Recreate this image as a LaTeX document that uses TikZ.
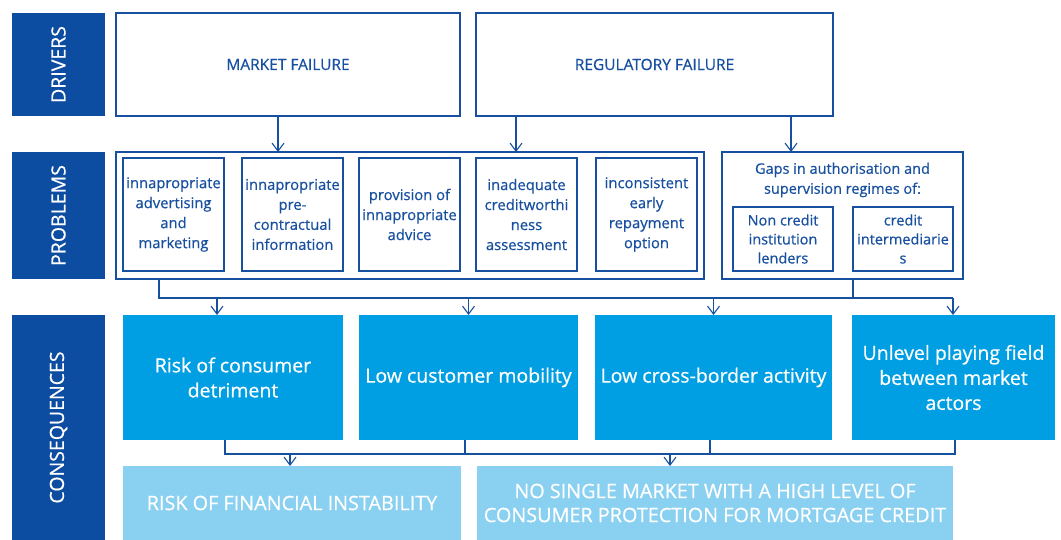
\documentclass[tikz,border=0pt]{standalone}
\usepackage{fontspec}
\setmainfont{Open Sans}[FakeBold=0.6]
\usetikzlibrary{arrows.meta}
\definecolor{sideblue}{RGB}{12,77,162}
\definecolor{inkblue}{RGB}{24,80,160}
\definecolor{conblue}{RGB}{0,158,226}
\definecolor{paleblue}{RGB}{137,208,241}
\begin{document}
\begin{tikzpicture}[x=1pt,y=-1pt,
  sidebox/.style={fill=sideblue, text=white, rotate=90, inner sep=0pt, outer sep=0pt,
    font=\fontsize{19.5}{22}\selectfont},
  drvbox/.style={draw=inkblue, line width=1.2pt, text=inkblue, inner sep=0pt, outer sep=0pt,
    font=\fontsize{15.5}{18}\selectfont},
  grpbox/.style={draw=inkblue, line width=1.2pt, inner sep=0pt, outer sep=0pt},
  probbox/.style={draw=inkblue, line width=1.2pt, text=inkblue, inner sep=0pt, outer sep=0pt,
    align=center, font=\fontsize{14.8}{20}\selectfont},
  consbox/.style={fill=conblue, text=white, inner sep=0pt, outer sep=0pt,
    align=center, font=\fontsize{19.5}{25}\selectfont},
  outbox/.style={fill=paleblue, text=white, inner sep=0pt, outer sep=0pt,
    align=center, font=\fontsize{19.8}{24}\selectfont},
  conn/.style={draw=inkblue, line width=1.1pt},
  arr/.style={conn, -{Straight Barb[length=8pt,width=12pt]}}
]
\useasboundingbox (0,0) rectangle (1061,540);

% row labels
\node[sidebox, minimum width=103, minimum height=93] (sdrv) at (58.5,64.5) {DRIVERS};
\node[sidebox, minimum width=127, minimum height=93] (sprob) at (58.5,215.5) {PROBLEMS};
\node[sidebox, minimum width=225, minimum height=93] (scons) at (58.5,427.5) {CONSEQUENCES};

% drivers
\node[drvbox, minimum width=344, minimum height=103] (mf) at (288,64.5) {MARKET FAILURE};
\node[drvbox, minimum width=357, minimum height=103] (rf) at (654.5,64.5) {REGULATORY FAILURE};

% problems
\node[grpbox, minimum width=588, minimum height=127] (g1) at (410,215.5) {};
\node[grpbox, minimum width=241, minimum height=127] (g2) at (842.5,215.5) {};

\node[probbox, minimum width=101, minimum height=113] (p1) at (173.5,214.5)
  {innapropriate\\advertising\\and\\marketing};
\node[probbox, minimum width=101, minimum height=113] (p2) at (292.5,214.5)
  {innapropriate\\pre-\\contractual\\information};
\node[probbox, minimum width=101, minimum height=113] (p3) at (409.5,214.5)
  {provision of\\innapropriate\\advice};
\node[probbox, minimum width=101, minimum height=113] (p4) at (526.5,214.5)
  {inadequate\\creditworthi\\ness\\assessment};
\node[probbox, minimum width=101, minimum height=113] (p5) at (646.5,214.5)
  {inconsistent\\early\\repayment\\option};

\node[text=inkblue, align=center, inner sep=0pt, font=\fontsize{14.5}{20}\selectfont]
  (gt) at (842.5,180) {Gaps in authorisation and\\supervision regimes of:};
\node[probbox, minimum width=100, minimum height=64, font=\fontsize{14.5}{19}\selectfont] (p6) at (783,239)
  {Non credit\\institution\\lenders};
\node[probbox, minimum width=100, minimum height=64, font=\fontsize{14.5}{19}\selectfont] (p7) at (903,239)
  {credit\\intermediarie\\s};

% consequences
\node[consbox, minimum width=220, minimum height=125] (c1) at (233,377.5)
  {Risk of consumer\\detriment};
\node[consbox, minimum width=219, minimum height=125] (c2) at (468.5,377.5)
  {Low customer mobility};
\node[consbox, minimum width=237, minimum height=125] (c3) at (713.5,377.5)
  {Low cross-border activity};
\node[consbox, minimum width=203, minimum height=125] (c4) at (953.5,377.5)
  {Unlevel playing field\\between market\\actors};

\node[outbox, minimum width=338, minimum height=74] (o1) at (292,503)
  {RISK OF FINANCIAL INSTABILITY};
\node[outbox, minimum width=476, minimum height=74] (o2) at (715,503)
  {NO SINGLE MARKET WITH A HIGH LEVEL OF\\CONSUMER PROTECTION FOR MORTGAGE CREDIT};

% drivers -> problems
\draw[arr] (mf.south -| 278,0) -- (g1.north -| 278,0);
\draw[arr] (rf.south -| 516,0) -- (g1.north -| 516,0);
\draw[arr] (rf.south -| 791,0) -- (g2.north -| 791,0);

% problems -> consequences
\coordinate (busA) at (159,298);
\coordinate (busB) at (853,298);
\coordinate (busC) at (953,298);
\draw[conn] (g1.south -| busA) -- (busA) -- (busC);
\draw[conn] (g2.south -| busB) -- (busB);
\draw[arr] (busA -| 217,0) -- (c1.north -| 217,0);
\draw[arr] (busA -| c2.north) -- (c2.north);
\draw[arr] (busA -| c3.north) -- (c3.north);
\draw[arr] (busC) -- (c4.north -| busC);

% consequences -> outcomes
\coordinate (busD) at (225,454);
\coordinate (busE) at (955,454);
\draw[conn] (c1.south -| busD) -- (busD) -- (busE) -- (c4.south -| busE);
\draw[conn] (c2.south -| 465,0) -- (busD -| 465,0);
\draw[conn] (c3.south -| 710,0) -- (busD -| 710,0);
\draw[arr] (busD -| 290,0) -- (o1.north -| 290,0);
\draw[arr] (busD -| 670,0) -- (o2.north -| 670,0);
\end{tikzpicture}
\end{document}
